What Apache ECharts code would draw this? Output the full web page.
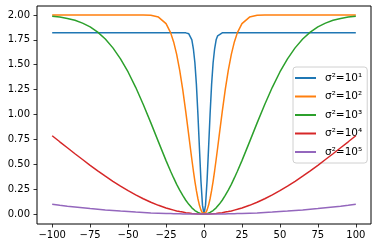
<!DOCTYPE html>
<html>
<head>
<meta charset="utf-8">
<script src="https://cdn.jsdelivr.net/npm/echarts@6/dist/echarts.min.js"></script>
<style>
  html, body { margin: 0; padding: 0; background: #fff; }
  #chart { width: 378px; height: 248px; }
</style>
</head>
<body>
<div id="chart"></div>
<script>
// x positions the curves were read at (denser near 0)
var xs = [-100,-95,-90,-85,-80,-75,-70,-65,-60,-55,-50,-45,-40,-35,-30,-25,-22,-20,-18,-16,-14,-12,
          -10,-9,-8,-7,-6,-5,-4,-3,-2,-1,0,1,2,3,4,5,6,7,8,9,10,
          12,14,16,18,20,22,25,30,35,40,45,50,55,60,65,70,75,80,85,90,95,100];

var names = ['σ²=10¹', 'σ²=10²', 'σ²=10³', 'σ²=10⁴', 'σ²=10⁵'];
var colors = ['#1f77b4', '#ff7f0e', '#2ca02c', '#d62728', '#9467bd'];

var s1 = [1.82,1.82,1.82,1.82,1.82,1.82,1.82,1.82,1.82,1.82,1.82,1.82,1.82,1.82,1.82,1.82,1.82,1.82,1.82,1.82,1.82,1.82,
          1.81,1.79,1.75,1.66,1.52,1.30,1.00,0.66,0.33,0.09,0,0.09,0.33,0.66,1.00,1.30,1.52,1.66,1.75,1.79,1.81,
          1.82,1.82,1.82,1.82,1.82,1.82,1.82,1.82,1.82,1.82,1.82,1.82,1.82,1.82,1.82,1.82,1.82,1.82,1.82,1.82,1.82,1.82];
var s2 = [2.000,2.000,2.000,2.000,2.000,2.000,2.000,2.000,2.000,2.000,2.000,2.000,2.000,1.996,1.978,1.912,1.822,1.729,1.604,1.444,1.249,1.026,
          0.787,0.666,0.548,0.435,0.329,0.235,0.154,0.088,0.040,0.010,0,0.010,0.040,0.088,0.154,0.235,0.329,0.435,0.548,0.666,0.787,
          1.026,1.249,1.444,1.604,1.729,1.822,1.912,1.978,1.996,2.000,2.000,2.000,2.000,2.000,2.000,2.000,2.000,2.000,2.000,2.000,2.000,2.000];
var s3 = [1.987,1.978,1.965,1.946,1.918,1.880,1.827,1.758,1.669,1.559,1.427,1.273,1.101,0.916,0.725,0.537,0.430,0.363,0.299,0.240,0.187,0.139,
          0.098,0.079,0.063,0.048,0.036,0.025,0.016,0.009,0.004,0.001,0,0.001,0.004,0.009,0.016,0.025,0.036,0.048,0.063,0.079,0.098,
          0.139,0.187,0.240,0.299,0.363,0.430,0.537,0.725,0.916,1.101,1.273,1.427,1.559,1.669,1.758,1.827,1.880,1.918,1.946,1.965,1.978,1.987];
var s4 = [0.787,0.726,0.666,0.606,0.548,0.490,0.435,0.381,0.329,0.281,0.235,0.193,0.154,0.119,0.088,0.062,0.048,0.040,0.032,0.025,0.020,0.014,
          0.010,0.008,0.006,0.005,0.004,0.002,0.002,0.001,0,0,0,0,0,0.001,0.002,0.002,0.004,0.005,0.006,0.008,0.010,
          0.014,0.020,0.025,0.032,0.040,0.048,0.062,0.088,0.119,0.154,0.193,0.235,0.281,0.329,0.381,0.435,0.490,0.548,0.606,0.666,0.726,0.787];
var s5 = [0.098,0.088,0.079,0.071,0.063,0.055,0.049,0.042,0.036,0.030,0.025,0.020,0.016,0.012,0.009,0.006,0.005,0.004,0.003,0.003,0.002,0.001,
          0.001,0,0,0,0,0,0,0,0,0,0,0,0,0,0,0,0,0,0,0,0.001,
          0.001,0.002,0.003,0.003,0.004,0.005,0.006,0.009,0.012,0.016,0.020,0.025,0.030,0.036,0.042,0.049,0.055,0.063,0.071,0.079,0.088,0.098];

var xTicks = [-100, -75, -50, -25, 0, 25, 50, 75, 100];
var yTicks = [0, 0.25, 0.5, 0.75, 1.0, 1.25, 1.5, 1.75, 2.0];

var allSeries = [s1, s2, s3, s4, s5];

var chart = echarts.init(document.getElementById('chart'), null, { renderer: 'canvas' });

var series = allSeries.map(function (ys, i) {
    return {
        name: names[i],
        type: 'line',
        data: xs.map(function (x, j) { return [x, ys[j]]; }),
        symbol: 'none',
        smooth: false,
        lineStyle: { color: colors[i], width: 1.5 },
        itemStyle: { color: colors[i] },
        z: 2 + i
    };
});

var font = 'DejaVu Sans';

chart.setOption({
    animation: false,
    backgroundColor: '#fff',
    grid: {
        left: 37, right: 7, top: 6, bottom: 24,
        show: true, borderColor: '#000', borderWidth: 1, backgroundColor: '#fff'
    },
    legend: {
        orient: 'vertical',
        left: 293, top: 67,
        padding: [5, 5, 5, 2],
        itemGap: 6.5,
        itemWidth: 21, itemHeight: 2,
        icon: 'rect',
        backgroundColor: 'rgba(255,255,255,0.8)',
        borderColor: '#d0d0d0', borderWidth: 1, borderRadius: 3,
        textStyle: { fontFamily: font, fontSize: 10.5, color: '#000', padding: [0, 0, 0, 4], lineHeight: 12 },
        data: names
    },
    xAxis: {
        type: 'value', min: -110, max: 110,
        axisLine: { show: false, onZero: false },
        splitLine: { show: false },
        axisTick: { show: true, inside: false, length: 3.5, lineStyle: { color: '#000', width: 0.8 }, customValues: xTicks },
        axisLabel: { fontFamily: font, fontSize: 10, color: '#000', margin: 6, customValues: xTicks,
                     formatter: function (v) { return v < 0 ? '\u2212' + Math.abs(v) : String(v); } }
    },
    yAxis: {
        type: 'value', min: -0.0995, max: 2.0895,
        axisLine: { show: false, onZero: false },
        splitLine: { show: false },
        axisTick: { show: true, inside: false, length: 3.5, lineStyle: { color: '#000', width: 0.8 }, customValues: yTicks },
        axisLabel: { fontFamily: font, fontSize: 10, color: '#000', margin: 7, customValues: yTicks,
                     formatter: function (v) { return v.toFixed(2); } }
    },
    series: series
});
</script>
</body>
</html>
